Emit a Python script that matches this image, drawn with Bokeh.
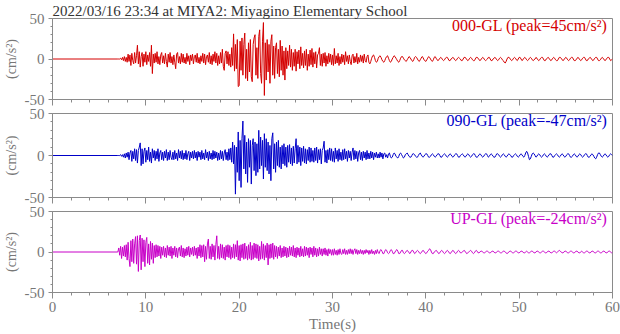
from bokeh.plotting import figure
from bokeh.layouts import column
from bokeh.models import Range1d, SingleIntervalTicker, Label, Title, CustomLabelingPolicy
from bokeh.embed import file_html
from bokeh.resources import INLINE

title_text = "2022/03/16 23:34 at MIYA2: Miyagino Elementary School"
channels = ["000-GL", "090-GL", "UP-GL"]
peaks = [45, -47, -24]
colors = ["#d40000", "#0000c8", "#c800c8"]
x_ticks_major = 10
y_ticks_major = 50

onset = 7.0   # s, trigger time; record is quiet before this
dt = 0.1

ns_vals = [
    0, 0, 0, 1, -1, 2, -2, 3, -3, 2,
    -4, 6, -3, 5, -8, 7, -2, -6, 8, -5,
    4, 17, -6, 9, -10, 3, 8, -9, 6, -4,
    9, -7, 5, -3, 8, -9, 17, -18, 6, -5,
    7, -4, 9, -6, 3, -7, 5, 8, -5, 4,
    -6, 7, -3, -10, 6, -4, 8, -5, 3, -7,
    5, -4, -12, 6, 8, -5, 3, -6, 7, -4,
    6, -5, 2, -6, 7, -3, 4, -7, 5, -2,
    6, -6, 3, 5, -4, 7, -5, 2, -6, 4,
    -3, 7, -5, 6, -7, 3, 5, -4, 8, -6,
    4, -7, 6, -3, 9, -5, 7, -8, 4, -6,
    8, -5, 12, -9, -14, 7, 10, -6, 9, -8,
    6, -10, 14, -8, 31, -15, 18, -12, 24, -34,
    -33, 22, -14, 26, -20, 18, 32, -24, 12, -27,
    20, -16, 24, -22, -28, 18, 26, 30, -20, 14,
    -24, 28, 36, -18, -30, 22, 45, -45, 20, -26,
    24, -16, 18, -30, 22, 30, -20, 16, -24, 14,
    20, -18, 12, -22, 23, -14, 16, -20, 10, -26,
    14, -12, 10, -8, 17, -10, 12, -14, 8, -9,
    12, -15, 9, -6, 11, -12, 15, -8, 7, -11,
    10, -8, 12, -14, 6, -9, 11, -7, 13, -10,
    8, -6, 9, -11, 5, 7, 14, -8, 6, -9,
    7, -5, 8, -9, 4, -6, 7, -4, 6, -7,
    5, -8, 13, -6, 4, -5, 7, -8, 3, -6,
    6, -4, 5, -7, 9, -3, 4, -6, 5, -3,
    -7, 4, 6, -5, 3, -4, 7, -6, 2, -4,
    5, -3, 4, -5, 6, -2, -4, 3, 5, -4,
    -6, -3, 1, 4, 5, 2, -2, -4, -3, 1,
    3, 4, 2, -1, -3, -4, -2, 1, 3, 4,
    1, -2, -4, -3, 0, 2, 4, 3, 1, -1,
    -3, -4, -2, 1, 3, 3, 1, -1, -2, -3,
    -1, 1, 3, 2, 0, -2, -3, -1, 2, 3,
    2, 0, -2, -3, -1, 1, 3, 2, -1, -2,
    -3, -1, 1, 3, 2, 0, -2, -3, -1, 2,
    3, 1, -1, -2, -1, 1, 2, 1, -1, -2,
    -1, 1, 2, 2, 0, -2, -2, 0, 1, 2,
    1, -1, -2, -1, 1, 2, 1, 0, -2, -2,
    0, 2, 2, 1, -1, -2, -1, 1, 2, 1,
    -1, -2, -2, 0, 2, 2, 1, -1, -2, -1,
    1, 2, 1, -1, -2, -1, 0, 2, 2, 0,
    -2, -2, 0, 1, 2, 1, -1, -2, -1, 1,
    2, 1, -1, -2, -4, -5, -3, 0, 2, 2,
    1, -1, -2, -1, 1, 2, 1, -1, -2, 0,
    2, 2, 0, -2, -1, 1, 2, 1, -1, -2,
    -1, 1, 2, 1, -1, -2, -1, 0, 2, 1,
    -1, -2, -1, 1, 2, 2, 0, -2, -2, 0,
    1, 2, 1, -1, -2, -1, 1, 2, 1, -1,
    -2, -2, 0, 2, 2, 1, -1, -2, -1, 1,
    2, 1, -1, -2, -1, 1, 2, 2, 0, -2,
    -2, -1, 1, 2, 1, -1, -2, -1, 1, 2,
    2, 0, -2, -2, 0, 1, 2, 1, -1, -2,
    -1, 1, 2, 2, 0, -2, -2, -1, 1, 2,
    1, -1, -2, -1, 1, 2, 2, 0, -2, -1,
    0,
]

ew_vals = [
    0, 0, 0, 1, -1, 1, -2, 2, -3, 3,
    -2, 4, -5, 3, 6, -7, 5, -4, 8, -6,
    7, -9, 6, 10, 15, -12, 8, -10, 5, 9,
    -8, 6, -5, 10, -7, 4, -9, 8, -3, 6,
    -6, 5, -4, 8, -7, 3, 6, -5, 4, -6,
    5, -3, 7, -6, 4, -5, 6, -2, -5, 4,
    -5, 6, -4, 3, -6, 7, -3, 5, -4, 6,
    -5, 3, -4, 6, -5, 2, 5, -6, 4, -3,
    5, -4, 6, -3, 4, -6, 5, -2, 4, -5,
    6, -4, 3, -5, 7, -3, 4, -6, 5, -4,
    3, -5, 6, -4, 5, -3, 4, -6, 3, -5,
    6, -4, 5, -6, 3, 7, -5, 4, -6, 8,
    -5, 9, -8, 16, -10, 12, -46, 10, -20, 28,
    -30, 18, -38, 20, 41, -16, 24, -22, 16, -32,
    20, -14, 18, -34, 12, 20, -18, 16, -24, 14,
    -20, 30, -16, 22, -12, 18, -28, 26, -14, 20,
    -18, 16, -22, 12, -30, 20, 27, -16, 14, -20,
    16, -12, 18, -14, 10, -16, 12, -10, 14, -12,
    10, -14, 12, -8, 13, -10, 9, -12, 11, -9,
    8, 20, -10, 12, -8, 10, -12, 9, -7, 11,
    -9, 8, -10, 7, -6, 10, -8, 9, -7, 6,
    -8, 9, -6, 10, -9, 7, -5, 8, -10, 6,
    9, 17, -8, 6, -9, 7, -5, 9, -6, 8,
    -7, 5, -8, 9, -4, 6, -7, 8, -5, 4,
    -6, 7, -5, 8, -4, 5, -7, 6, -3, 5,
    -6, 4, 9, -5, 6, -4, 5, -7, 3, 6,
    -5, 4, -6, 5, -3, 4, -5, 6, -4, 3,
    -4, 5, -3, 4, -5, 3, -2, 4, -3, 2,
    -3, 4, -2, 3, -4, 2, 3, -2, 1, -3,
    2, 3, -1, -3, -2, 1, 3, 2, -1, -2,
    -3, -1, 2, 3, 1, -1, -3, -2, 1, 2,
    3, 1, -1, -2, -2, 0, 2, 2, 1, -1,
    -2, -2, 0, 2, 3, 1, -1, -2, -1, 1,
    2, 2, 0, -2, -2, -1, 1, 2, 1, -1,
    -2, -1, 1, 2, 2, 0, -2, -2, 0, 1,
    2, 1, -1, -2, -1, 1, 2, 1, -1, -2,
    -1, 1, 2, 2, 0, -2, -2, 0, 1, 2,
    1, -1, -2, -1, 1, 2, 1, -1, -2, -1,
    1, 2, 2, 0, -2, -2, -1, 1, 2, 1,
    -1, -2, -1, 1, 2, 2, 0, -2, -1, 1,
    2, 1, -1, -2, -2, 0, 2, 2, 1, -1,
    -2, -1, 1, 2, 1, -1, -2, -1, 1, 2,
    1, 0, -2, -2, 0, 1, 2, 1, -1, -2,
    -1, 1, 2, 1, -1, -2, 0, 3, 5, 3,
    -1, -5, -4, -1, 2, 3, 2, 0, -2, -1,
    1, 2, 1, -1, -2, -1, 1, 2, 1, -1,
    -2, -1, 1, 2, 2, 0, -2, -2, 0, 1,
    2, 1, -1, -2, -1, 1, 2, 1, -1, -2,
    -1, 1, 2, 2, 0, -2, -2, -1, 1, 2,
    1, -1, -2, -1, 1, 2, 1, -1, -2, -1,
    1, 2, 2, 0, -2, -2, -1, 1, 2, 1,
    -1, -3, -4, -2, 1, 3, 3, 1, -1, -2,
    -1, 1, 2, 1, -1, -2, -1, 1, 2, 1,
    0,
]

ud_vals = [
    0, 5, -4, 7, -8, 6, -5, 8, -6, 9,
    -10, 12, -8, -18, 14, -12, 16, -14, 10, 19,
    -15, 20, -24, 14, 21, -22, 17, -12, 15, -18,
    12, 18, -14, 10, -16, 13, -9, 11, -14, 8,
    -7, 9, -6, 8, -5, 7, -8, 6, -4, 7,
    -6, 5, -7, 8, -4, 6, -5, 7, -8, 5,
    -4, 7, -6, 5, -7, 4, 6, -5, 8, -6,
    5, -7, 4, -5, 6, -4, 7, -6, 5, -3,
    6, -5, 7, -4, 5, -8, 6, -5, 9, -7,
    8, -6, 9, -12, 7, -9, 10, 16, -8, 7,
    -9, 10, -6, 8, -10, 9, 20, -8, 7, -9,
    10, -7, 9, -8, 6, -10, 8, -6, 9, -7,
    8, -9, 6, -7, 10, -8, 9, -6, 14, -10,
    8, -11, 9, -7, 10, -9, 11, -8, 7, -10,
    9, -8, 12, -10, 8, -9, 11, -7, 10, -8,
    9, -11, 7, -9, 13, -8, 10, -10, 8, -7,
    11, -16, 9, -8, 10, -7, 11, -9, 8, -6,
    7, -8, 6, -5, 8, -7, 5, -6, 7, -5,
    6, -7, 5, -6, 7, -4, 6, -5, 8, -6,
    5, -7, 6, -4, 5, -6, 7, -5, 4, -6,
    7, -5, 6, -4, 5, -7, 6, -3, 5, -6,
    7, -4, 5, -6, 4, -5, 6, -3, 4, -5,
    4, -3, 5, -4, 3, -5, 4, -2, 3, -4,
    3, -4, 4, -3, 2, -4, 3, -3, 4, -2,
    -3, 3, -2, 4, -3, 2, -3, 3, -2, 4,
    -2, 3, -3, 2, 4, -2, 3, -3, 2, -2,
    3, -2, 2, -3, 2, -2, 3, -1, 2, -3,
    2, -2, 3, -2, 1, -3, 2, -2, 3, -1,
    -2, 2, 3, 1, -2, -2, 1, 3, 2, -1,
    -2, -1, 2, 3, 1, -2, -2, 0, 2, 3,
    1, -2, -2, 0, 2, 2, -1, -2, -1, 1,
    2, 1, -1, -2, 0, 2, 2, 0, -2, -1,
    1, 2, 1, -1, -2, -1, 1, 2, 1, -1,
    -2, -1, 1, 2, 4, 3, 0, -2, -2, 0,
    1, 2, 1, -1, -2, -1, 1, 2, 1, -1,
    -2, -1, 1, 2, 1, -1, -2, -1, 1, 2,
    1, -1, -2, -1, 1, 2, 1, -1, -1, 0,
    1, 2, 1, -1, -2, -1, 0, 1, 2, 1,
    -1, -2, -1, 1, 2, 1, -1, -1, 0, 1,
    1, 0, -1, -1, 0, 1, 1, 0, -1, -1,
    0, 1, 1, 0, -1, -1, 0, 1, 1, 0,
    -1, -1, 0, 1, 1, 0, -1, -2, -1, 0,
    1, 1, 0, -1, -1, 0, 1, 1, 0, -1,
    -1, 0, 1, 1, 0, -1, -1, 0, 1, 0,
    -1, -1, 0, 1, 1, 0, -1, -1, 0, 1,
    1, 0, -1, -1, 0, 1, 1, 0, -1, -1,
    0, 1, 1, 0, -1, -1, 0, 1, 1, 0,
    -1, 0, 1, 2, 1, 0, -1, -1, 0, 1,
    1, 0, -1, -1, 0, 1, 1, 0, -1, -1,
    0, 1, 1, 0, -1, -1, 0, 1, 0, -1,
    -1, 0, 1, 1, 0, -1, -1, 0, 1, 1,
    0, -1, -1, 0, 1, 1, 0, -1, -1, 0,
    1, 1, 0, -1, -1, 0, 1, 1, 0, -1,
    0,
]

traces = [ns_vals, ew_vals, ud_vals]

FONT = "Liberation Serif"
GRAY = "#777777"
FRAME = "#8a8a8a"

hide_labels = CustomLabelingPolicy(code="""
try {
  if (typeof indices.clear === 'function') { indices.clear(); return indices; }
  if (typeof indices.unset === 'function') {
    for (const i of Array.from(indices)) { indices.unset(i); }
    return indices;
  }
} catch (e) {}
return indices;
""")


def make_panel(k, vals, height, top, bottom, last):
    p = figure(width=620, height=height,
               x_range=Range1d(0, 60), y_range=Range1d(-50, 50),
               output_backend="svg", toolbar_location=None, title=None,
               min_border_left=50, min_border_right=8,
               min_border_top=top, min_border_bottom=bottom)
    p.grid.visible = False
    p.outline_line_color = FRAME
    p.outline_line_width = 1
    p.background_fill_color = "white"
    p.border_fill_color = "white"

    t = [0.0] + [onset + dt * i for i in range(len(vals))]
    y = [0.0] + list(vals)
    p.line(t, y, line_color=colors[k], line_width=1)

    xa = p.xaxis[0]
    xa.ticker = SingleIntervalTicker(interval=x_ticks_major, num_minor_ticks=5)
    xa.axis_line_color = FRAME
    xa.major_tick_line_color = FRAME
    xa.minor_tick_line_color = FRAME
    xa.major_tick_in = 0
    xa.major_tick_out = 6
    xa.minor_tick_in = 0
    xa.minor_tick_out = 3
    if last:
        xa.major_label_text_font = FONT
        xa.major_label_text_font_size = "15px"
        xa.major_label_text_color = GRAY
        xa.major_label_standoff = 3
        xa.axis_label = "Time(s)"
        xa.axis_label_text_font = FONT
        xa.axis_label_text_font_size = "15px"
        xa.axis_label_text_font_style = "normal"
        xa.axis_label_text_color = GRAY
        xa.axis_label_standoff = 1
    else:
        xa.major_label_policy = hide_labels
        xa.major_label_text_font_size = "0px"
        xa.major_label_standoff = 0

    ya = p.yaxis[0]
    ya.ticker = SingleIntervalTicker(interval=y_ticks_major, num_minor_ticks=5)
    ya.major_label_overrides = {-50: "-50", 0: "0", 50: "50"}
    ya.axis_line_color = FRAME
    ya.major_tick_line_color = FRAME
    ya.minor_tick_line_color = FRAME
    ya.major_tick_in = 0
    ya.major_tick_out = 4
    ya.minor_tick_in = 0
    ya.minor_tick_out = 2
    ya.major_label_text_font = FONT
    ya.major_label_text_font_size = "15px"
    ya.major_label_text_color = GRAY
    ya.major_label_standoff = 4
    ya.axis_label = "(cm/s\u00b2)"
    ya.axis_label_text_font = FONT
    ya.axis_label_text_font_size = "14px"
    ya.axis_label_text_font_style = "normal"
    ya.axis_label_text_color = GRAY
    ya.axis_label_standoff = 3

    lab = Label(x=60, y=50, x_offset=-5, y_offset=2,
                text="%s (peak=%dcm/s\u00b2)" % (channels[k], peaks[k]),
                text_align="right", text_baseline="top",
                text_font=FONT, text_font_size="16px", text_color=colors[k])
    p.add_layout(lab)

    if k == 0:
        p.add_layout(Title(text=title_text, align="left", offset=0, standoff=0,
                           text_font=FONT, text_font_size="15px",
                           text_font_style="normal", text_color="#333333"),
                     "above")
    return p


p1 = make_panel(0, ns_vals, 106, 15, 7, False)
p2 = make_panel(1, ew_vals, 98, 7, 7, False)
p3 = make_panel(2, ud_vals, 130, 7, 39, True)

layout = column(p1, p2, p3, spacing=0)
layout.styles = {"position": "absolute", "left": "0px", "top": "0px"}

open("out.html", "w").write(file_html(layout, INLINE))
